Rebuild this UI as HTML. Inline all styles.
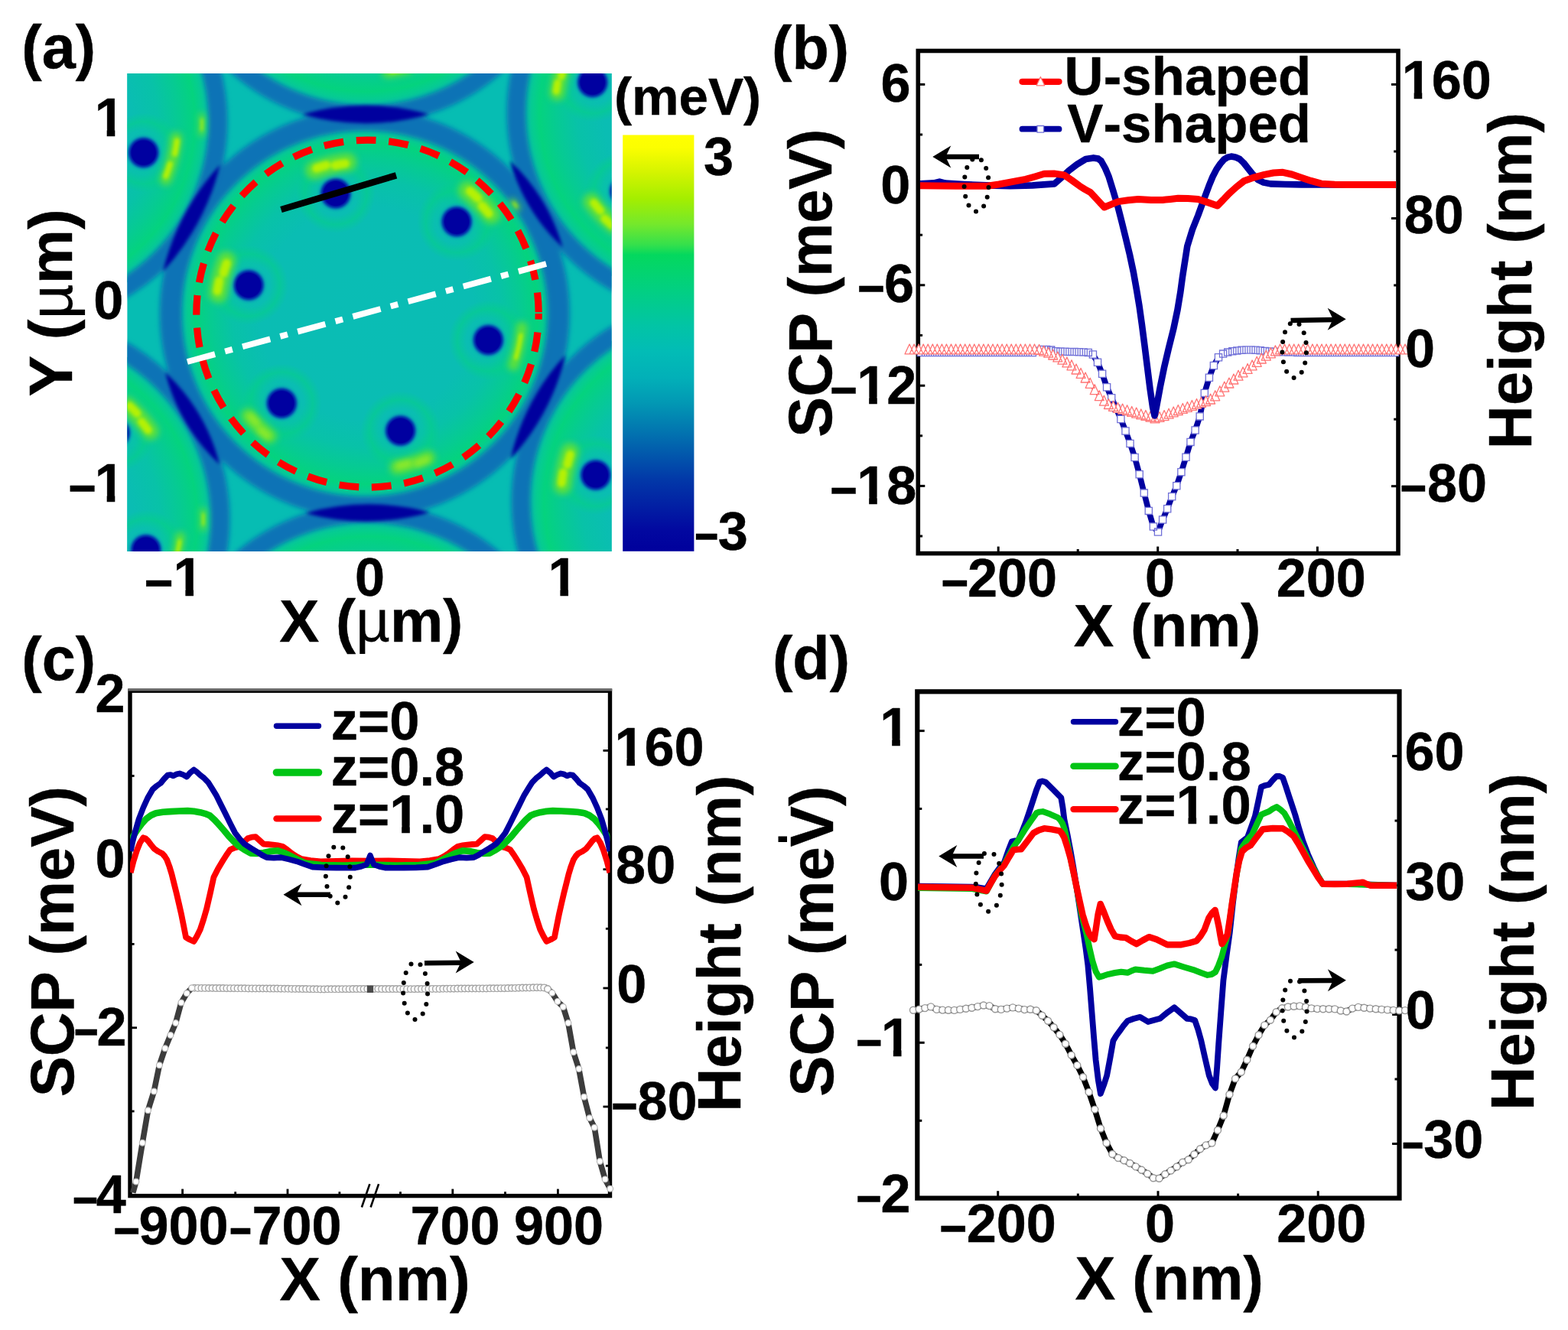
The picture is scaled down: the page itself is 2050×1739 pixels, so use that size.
<!DOCTYPE html>
<html lang="en"><head><meta charset="utf-8"><title>SCP and height profiles</title>
<style>
html,body{margin:0;padding:0;background:#fff;}
body{width:2050px;height:1739px;overflow:hidden;}
svg{display:block;}
svg text{font-family:"Liberation Sans", Arial, Helvetica, sans-serif;font-weight:bold;fill:#000;stroke:#000;stroke-width:0.45px;stroke-linejoin:round;}
</style></head><body>
<svg width="2050" height="1739" viewBox="0 0 2050 1739">
<defs>
<clipPath id="hclip"><rect x="166.4" y="96.0" width="633.2" height="625.1"/></clipPath>
<radialGradient id="disk" cx="0.5" cy="0.5" r="0.5">
<stop offset="0" stop-color="#0abdb5"/>
<stop offset="0.56" stop-color="#0abdb3"/>
<stop offset="0.70" stop-color="#08c2a8"/>
<stop offset="0.81" stop-color="#06cb92"/>
<stop offset="0.895" stop-color="#04d37e"/>
<stop offset="0.95" stop-color="#06c99a"/>
<stop offset="1" stop-color="#08b6b0"/>
</radialGradient>
<radialGradient id="halo" cx="0.5" cy="0.5" r="0.5">
<stop offset="0" stop-color="#04d47c" stop-opacity="0"/>
<stop offset="0.55" stop-color="#04d47c" stop-opacity="0"/>
<stop offset="0.78" stop-color="#04d47c" stop-opacity="0.45"/>
<stop offset="1" stop-color="#04d47c" stop-opacity="0"/>
</radialGradient>
<radialGradient id="dot" cx="0.5" cy="0.5" r="0.5">
<stop offset="0" stop-color="#0000a0"/>
<stop offset="0.60" stop-color="#0000a0"/>
<stop offset="0.72" stop-color="#0340b0" stop-opacity="0.95"/>
<stop offset="0.86" stop-color="#08a0b8" stop-opacity="0.55"/>
<stop offset="1" stop-color="#08bcb4" stop-opacity="0"/>
</radialGradient>
<radialGradient id="blob" cx="0.5" cy="0.5" r="0.5">
<stop offset="0" stop-color="#c4f400"/>
<stop offset="0.45" stop-color="#a8ee10" stop-opacity="0.95"/>
<stop offset="0.78" stop-color="#50e040" stop-opacity="0.6"/>
<stop offset="1" stop-color="#04d67a" stop-opacity="0"/>
</radialGradient>
<filter id="b2" x="-20%" y="-20%" width="140%" height="140%"><feGaussianBlur stdDeviation="2"/></filter>
<filter id="b3" x="-20%" y="-20%" width="140%" height="140%"><feGaussianBlur stdDeviation="3"/></filter>
<filter id="b4" x="-20%" y="-20%" width="140%" height="140%"><feGaussianBlur stdDeviation="4"/></filter>
<linearGradient id="cbar" x1="0" y1="0" x2="0" y2="1">
<stop offset="0" stop-color="#ffff00"/>
<stop offset="0.03" stop-color="#fcfe00"/>
<stop offset="0.09" stop-color="#d4f400"/>
<stop offset="0.153" stop-color="#a4ee00"/>
<stop offset="0.215" stop-color="#74e82c"/>
<stop offset="0.264" stop-color="#34e04c"/>
<stop offset="0.288" stop-color="#04d85e"/>
<stop offset="0.368" stop-color="#02d080"/>
<stop offset="0.46" stop-color="#02c4a6"/>
<stop offset="0.52" stop-color="#02bcb6"/>
<stop offset="0.583" stop-color="#02b0b8"/>
<stop offset="0.644" stop-color="#0298b4"/>
<stop offset="0.706" stop-color="#0278b0"/>
<stop offset="0.767" stop-color="#0258ac"/>
<stop offset="0.828" stop-color="#0238a8"/>
<stop offset="0.89" stop-color="#0220a4"/>
<stop offset="0.95" stop-color="#0208a0"/>
<stop offset="1" stop-color="#00009c"/>
</linearGradient>
<clipPath id="bclip"><rect x="1200.3" y="66.5" width="627.7" height="657.1"/></clipPath>
<clipPath id="cclip"><rect x="170.0" y="903.2" width="627.5" height="660.4"/></clipPath>
<clipPath id="dclip"><rect x="1199.3" y="904.3" width="630.2" height="662.3"/></clipPath>
</defs>
<rect width="2050" height="1739" fill="#fff"/>
<g clip-path="url(#hclip)">
<rect x="164.4" y="94.0" width="637.2" height="629.1" fill="#06bdb3"/>
<circle cx="479.0" cy="409.5" r="250.0" fill="url(#disk)"/>
<circle cx="479.0" cy="-104.0" r="250.0" fill="url(#disk)"/>
<circle cx="481.0" cy="925.0" r="250.0" fill="url(#disk)"/>
<circle cx="31.0" cy="159.0" r="250.0" fill="url(#disk)"/>
<circle cx="929.0" cy="147.0" r="250.0" fill="url(#disk)"/>
<circle cx="34.0" cy="679.0" r="250.0" fill="url(#disk)"/>
<circle cx="935.0" cy="656.0" r="250.0" fill="url(#disk)"/>
<g filter="url(#b3)" fill="none" stroke="#086cb6" stroke-opacity="0.92">
<circle cx="476.8" cy="410.0" r="253.5" stroke-width="29"/>
<circle cx="479.0" cy="-104.0" r="254.0" stroke-width="25"/>
<circle cx="481.0" cy="925.0" r="254.0" stroke-width="25"/>
<circle cx="31.0" cy="159.0" r="254.0" stroke-width="25"/>
<circle cx="929.0" cy="147.0" r="254.0" stroke-width="25"/>
<circle cx="34.0" cy="679.0" r="254.0" stroke-width="25"/>
<circle cx="935.0" cy="656.0" r="254.0" stroke-width="25"/>
</g>
<g filter="url(#b2)" fill="#00009e">
<path d="M395.0,149.5 A305.3,305.3 0 0 1 561.0,149.5 A305.3,305.3 0 0 1 395.0,149.5 Z"/>
<path d="M399.0,671.0 A307.4,307.4 0 0 1 562.0,670.0 A307.4,307.4 0 0 1 399.0,671.0 Z"/>
<path d="M213.0,355.0 A318.2,318.2 0 0 1 287.6,215.4 A318.2,318.2 0 0 1 213.0,355.0 Z"/>
<path d="M666.5,210.0 A249.9,249.9 0 0 1 735.7,323.5 A249.9,249.9 0 0 1 666.5,210.0 Z"/>
<path d="M216.0,486.8 A250.0,250.0 0 0 1 287.1,607.4 A250.0,250.0 0 0 1 216.0,486.8 Z"/>
<path d="M667.4,600.0 A301.7,301.7 0 0 1 739.4,463.8 A301.7,301.7 0 0 1 667.4,600.0 Z"/>
</g>
<circle cx="438.9" cy="253.0" r="52" fill="url(#halo)"/>
<circle cx="597.1" cy="289.8" r="52" fill="url(#halo)"/>
<circle cx="325.1" cy="372.8" r="52" fill="url(#halo)"/>
<circle cx="638.4" cy="444.6" r="52" fill="url(#halo)"/>
<circle cx="368.3" cy="527.2" r="52" fill="url(#halo)"/>
<circle cx="523.6" cy="563.2" r="52" fill="url(#halo)"/>
<circle cx="187.7" cy="199.6" r="52" fill="url(#halo)"/>
<circle cx="774.7" cy="107.6" r="52" fill="url(#halo)"/>
<circle cx="190.8" cy="718.8" r="52" fill="url(#halo)"/>
<circle cx="778.8" cy="621.1" r="52" fill="url(#halo)"/>
<circle cx="817.0" cy="250.0" r="52" fill="url(#halo)"/>
<circle cx="150.0" cy="566.0" r="52" fill="url(#halo)"/>
<circle cx="438.9" cy="253.0" r="26" fill="url(#dot)"/>
<circle cx="597.1" cy="289.8" r="26" fill="url(#dot)"/>
<circle cx="325.1" cy="372.8" r="26" fill="url(#dot)"/>
<circle cx="638.4" cy="444.6" r="26" fill="url(#dot)"/>
<circle cx="368.3" cy="527.2" r="26" fill="url(#dot)"/>
<circle cx="523.6" cy="563.2" r="26" fill="url(#dot)"/>
<circle cx="187.7" cy="199.6" r="26" fill="url(#dot)"/>
<circle cx="774.7" cy="107.6" r="26" fill="url(#dot)"/>
<circle cx="190.8" cy="718.8" r="26" fill="url(#dot)"/>
<circle cx="778.8" cy="621.1" r="26" fill="url(#dot)"/>
<circle cx="817.0" cy="250.0" r="26" fill="url(#dot)"/>
<circle cx="150.0" cy="566.0" r="26" fill="url(#dot)"/>
<g filter="url(#b4)" fill="none" stroke="#64e234" stroke-linecap="round" stroke-opacity="0.92"><path d="M411.4,222.3 A199.0,199.0 0 0 1 454.1,212.1" stroke-width="24.2"/><path d="M611.3,249.1 A207.9,207.9 0 0 1 642.0,280.5" stroke-width="24.2"/><path d="M285.3,383.6 A195.5,195.5 0 0 1 295.9,341.0" stroke-width="24.2"/><path d="M682.2,427.9 A204.0,204.0 0 0 1 671.3,477.6" stroke-width="14.3"/><path d="M352.6,570.3 A204.5,204.5 0 0 1 324.4,543.4" stroke-width="18.7"/><path d="M559.9,598.5 A205.6,205.6 0 0 1 518.9,611.2" stroke-width="18.7"/><path d="M230.4,180.4 A200.6,200.6 0 0 1 216.8,234.5" stroke-width="15.4"/><path d="M728.4,121.7 A202.2,202.2 0 0 1 736.0,86.6" stroke-width="19.8"/><path d="M803.6,295.7 A194.5,194.5 0 0 1 773.4,263.8" stroke-width="22.0"/><path d="M166.0,529.8 A199.2,199.2 0 0 1 196.6,564.0" stroke-width="22.0"/><path d="M235.6,701.7 A202.9,202.9 0 0 1 230.3,730.2" stroke-width="12.1"/><path d="M735.4,634.8 A200.7,200.7 0 0 1 745.1,591.0" stroke-width="23.1"/><path d="M532.6,88.9 A200.2,200.2 0 0 1 507.2,94.2" stroke-width="15.4"/><path d="M263.9,151.5 A233.0,233.0 0 0 1 263.5,174.5" stroke-width="7.7"/><path d="M265.5,667.5 A231.8,231.8 0 0 1 265.5,690.5" stroke-width="7.7"/><path d="M670.2,263.3 A240.7,240.7 0 0 1 676.7,272.2" stroke-width="7.7"/></g>
<g filter="url(#b2)" fill="none" stroke="#bcf200" stroke-linecap="round" stroke-opacity="0.92"><path d="M413.9,219.9 A200.5,200.5 0 0 1 426.6,216.0" stroke-width="11.4"/><path d="M438.4,216.2 A197.5,197.5 0 0 1 451.3,213.9" stroke-width="11.4"/><path d="M614.6,250.0 A209.4,209.4 0 0 1 624.5,258.9" stroke-width="11.4"/><path d="M630.3,269.2 A206.4,206.4 0 0 1 638.9,279.0" stroke-width="11.4"/><path d="M284.2,380.3 A197.0,197.0 0 0 1 286.6,367.2" stroke-width="11.4"/><path d="M292.3,356.9 A194.0,194.0 0 0 1 296.3,344.4" stroke-width="11.4"/><path d="M681.0,438.0 A204.0,204.0 0 0 1 674.5,467.9" stroke-width="5.2"/><path d="M231.4,184.4 A202.1,202.1 0 0 1 228.6,201.1" stroke-width="7.3"/><path d="M222.2,214.5 A199.1,199.1 0 0 1 216.8,230.3" stroke-width="7.3"/><path d="M727.2,119.0 A203.7,203.7 0 0 1 729.0,108.3" stroke-width="9.4"/><path d="M733.9,99.8 A200.7,200.7 0 0 1 736.7,89.4" stroke-width="9.4"/><path d="M800.3,294.8 A196.0,196.0 0 0 1 790.5,285.8" stroke-width="10.4"/><path d="M784.9,275.4 A193.0,193.0 0 0 1 776.5,265.3" stroke-width="10.4"/><path d="M169.4,530.8 A200.7,200.7 0 0 1 179.3,540.6" stroke-width="10.4"/><path d="M185.1,551.5 A197.7,197.7 0 0 1 193.5,562.2" stroke-width="10.4"/><path d="M234.9,707.4 A202.9,202.9 0 0 1 231.7,724.5" stroke-width="4.4"/><path d="M734.2,631.5 A202.2,202.2 0 0 1 736.3,618.0" stroke-width="10.9"/><path d="M741.8,607.3 A199.2,199.2 0 0 1 745.5,594.4" stroke-width="10.9"/><path d="M527.6,90.3 A200.2,200.2 0 0 1 512.3,93.4" stroke-width="5.6"/><path d="M264.0,156.1 A233.0,233.0 0 0 1 263.8,169.9" stroke-width="2.8"/><path d="M265.7,672.1 A231.8,231.8 0 0 1 265.7,685.9" stroke-width="2.8"/><path d="M671.5,265.0 A240.7,240.7 0 0 1 675.4,270.4" stroke-width="2.8"/></g>
<g filter="url(#b3)" fill="none" stroke="#90ea28" stroke-linecap="round" stroke-opacity="0.9"><path d="M349.6,569.7 A206.0,206.0 0 0 1 340.6,562.1" stroke-width="8.8"/><path d="M335.3,552.9 A203.0,203.0 0 0 1 327.4,544.4" stroke-width="8.8"/><path d="M557.7,601.0 A207.1,207.1 0 0 1 545.5,605.6" stroke-width="8.8"/><path d="M533.9,606.0 A204.1,204.1 0 0 1 521.5,609.1" stroke-width="8.8"/></g>
</g>
<g clip-path="url(#hclip)">
<ellipse cx="480.5" cy="410.1" rx="223.7" ry="227" fill="none" stroke="#ff0000" stroke-width="9.2" stroke-dasharray="25.8 16.8" stroke-dashoffset="18.2"/>
</g>
<line x1="367.5" y1="274" x2="518" y2="229.3" stroke="#000" stroke-width="8.6"/>
<line x1="244.9" y1="473.0" x2="714.3" y2="344.9" stroke="#fff" stroke-width="7.9" stroke-dasharray="37.5 13.6 10 13.7"/>
<rect x="814.2" y="176.5" width="93.2" height="544.3" fill="url(#cbar)"/>
<line x1="1336.5" y1="106.8" x2="1384.5" y2="106.8" stroke="#ff0000" stroke-width="8.2" stroke-linecap="round"/>
<path d="M1355.2,111.8 L1365.7,111.8 L1360.4,100.4 Z " fill="#fff" stroke="#ff7474" stroke-width="1.3" stroke-linejoin="round"/>
<line x1="1336.5" y1="168.7" x2="1384.5" y2="168.7" stroke="#00009f" stroke-width="7.8" stroke-linecap="round"/>
<path d="M1356.0,164.5 h8.6 v8.6 h-8.6 Z " fill="#fff" stroke="#7070d8" stroke-width="1.3"/>
<rect x="1200.3" y="66.5" width="627.7" height="657.1" fill="none" stroke="#000" stroke-width="5.6"/>
<line x1="1200.3" y1="110.4" x2="1209.3" y2="110.4" stroke="#000" stroke-width="3.0"/>
<line x1="1200.3" y1="241.6" x2="1209.3" y2="241.6" stroke="#000" stroke-width="3.0"/>
<line x1="1200.3" y1="372.8" x2="1209.3" y2="372.8" stroke="#000" stroke-width="3.0"/>
<line x1="1200.3" y1="504.2" x2="1209.3" y2="504.2" stroke="#000" stroke-width="3.0"/>
<line x1="1200.3" y1="635.4" x2="1209.3" y2="635.4" stroke="#000" stroke-width="3.0"/>
<line x1="1200.3" y1="176.0" x2="1206.1" y2="176.0" stroke="#000" stroke-width="3.0"/>
<line x1="1200.3" y1="307.2" x2="1206.1" y2="307.2" stroke="#000" stroke-width="3.0"/>
<line x1="1200.3" y1="438.4" x2="1206.1" y2="438.4" stroke="#000" stroke-width="3.0"/>
<line x1="1200.3" y1="569.8" x2="1206.1" y2="569.8" stroke="#000" stroke-width="3.0"/>
<line x1="1200.3" y1="701.0" x2="1206.1" y2="701.0" stroke="#000" stroke-width="3.0"/>
<line x1="1828.0" y1="110.4" x2="1819.0" y2="110.4" stroke="#000" stroke-width="3.0"/>
<line x1="1828.0" y1="285.5" x2="1819.0" y2="285.5" stroke="#000" stroke-width="3.0"/>
<line x1="1828.0" y1="460.6" x2="1819.0" y2="460.6" stroke="#000" stroke-width="3.0"/>
<line x1="1828.0" y1="635.7" x2="1819.0" y2="635.7" stroke="#000" stroke-width="3.0"/>
<line x1="1828.0" y1="198.0" x2="1822.2" y2="198.0" stroke="#000" stroke-width="3.0"/>
<line x1="1828.0" y1="373.0" x2="1822.2" y2="373.0" stroke="#000" stroke-width="3.0"/>
<line x1="1828.0" y1="548.2" x2="1822.2" y2="548.2" stroke="#000" stroke-width="3.0"/>
<line x1="1305.2" y1="723.6" x2="1305.2" y2="714.6" stroke="#000" stroke-width="3.0"/>
<line x1="1513.7" y1="723.6" x2="1513.7" y2="714.6" stroke="#000" stroke-width="3.0"/>
<line x1="1722.4" y1="723.6" x2="1722.4" y2="714.6" stroke="#000" stroke-width="3.0"/>
<line x1="1409.2" y1="723.6" x2="1409.2" y2="718.0" stroke="#000" stroke-width="3.0"/>
<line x1="1618.0" y1="723.6" x2="1618.0" y2="718.0" stroke="#000" stroke-width="3.0"/>
<path d="M1204.0,461.0 L1210.1,461.0 L1216.2,461.0 L1222.2,461.0 L1228.3,461.0 L1234.4,461.0 L1240.5,461.0 L1246.5,461.0 L1252.6,461.0 L1258.7,461.0 L1264.8,461.0 L1270.9,461.0 L1276.9,461.0 L1283.0,461.0 L1289.1,461.0 L1295.2,461.0 L1301.3,461.0 L1307.3,461.0 L1313.4,461.0 L1319.5,461.0 L1325.6,461.0 L1331.6,461.0 L1337.7,461.0 L1343.8,461.0 L1349.9,461.0 L1356.0,458.8 L1362.0,457.0 L1368.1,457.0 L1374.2,457.6 L1380.3,459.3 L1386.4,459.6 L1392.4,459.8 L1398.5,459.9 L1404.6,460.1 L1410.7,460.3 L1416.7,460.4 L1422.8,460.9 L1428.9,463.5 L1435.0,473.8 L1441.1,488.8 L1447.1,506.2 L1453.2,520.3 L1459.3,533.9 L1465.4,548.0 L1471.5,563.5 L1477.5,579.9 L1483.6,598.0 L1489.7,620.3 L1495.8,644.6 L1501.8,667.9 L1507.9,688.5 L1514.0,695.6 L1520.1,679.5 L1526.2,665.2 L1532.2,649.3 L1538.3,635.3 L1544.4,617.2 L1550.5,597.8 L1556.5,577.9 L1562.6,562.5 L1568.7,544.4 L1574.8,513.9 L1580.9,493.7 L1586.9,478.0 L1593.0,467.3 L1599.1,462.6 L1605.2,460.6 L1611.3,459.3 L1617.3,458.4 L1623.4,457.7 L1629.5,457.5 L1635.6,457.5 L1641.6,457.7 L1647.7,458.3 L1653.8,458.9 L1659.9,459.5 L1666.0,459.7 L1672.0,460.0 L1678.1,460.2 L1684.2,460.4 L1690.3,460.6 L1696.4,460.9 L1702.4,461.0 L1708.5,461.0 L1714.6,461.0 L1720.7,461.0 L1726.7,461.0 L1732.8,461.0 L1738.9,461.0 L1745.0,461.0 L1751.1,461.0 L1757.1,461.0 L1763.2,461.0 L1769.3,461.0 L1775.4,461.0 L1781.5,461.0 L1787.5,461.0 L1793.6,461.0 L1799.7,461.0 L1805.8,461.0 L1811.8,461.0 L1817.9,461.0 L1824.0,461.0" fill="none" stroke="#00009f" stroke-width="7.6" stroke-linejoin="round" stroke-linecap="butt"/>
<path d="M1199.4,456.4 h9.2 v9.2 h-9.2 Z M1205.5,456.4 h9.2 v9.2 h-9.2 Z M1211.6,456.4 h9.2 v9.2 h-9.2 Z M1217.6,456.4 h9.2 v9.2 h-9.2 Z M1223.7,456.4 h9.2 v9.2 h-9.2 Z M1229.8,456.4 h9.2 v9.2 h-9.2 Z M1235.9,456.4 h9.2 v9.2 h-9.2 Z M1241.9,456.4 h9.2 v9.2 h-9.2 Z M1248.0,456.4 h9.2 v9.2 h-9.2 Z M1254.1,456.4 h9.2 v9.2 h-9.2 Z M1260.2,456.4 h9.2 v9.2 h-9.2 Z M1266.3,456.4 h9.2 v9.2 h-9.2 Z M1272.3,456.4 h9.2 v9.2 h-9.2 Z M1278.4,456.4 h9.2 v9.2 h-9.2 Z M1284.5,456.4 h9.2 v9.2 h-9.2 Z M1290.6,456.4 h9.2 v9.2 h-9.2 Z M1296.7,456.4 h9.2 v9.2 h-9.2 Z M1302.7,456.4 h9.2 v9.2 h-9.2 Z M1308.8,456.4 h9.2 v9.2 h-9.2 Z M1314.9,456.4 h9.2 v9.2 h-9.2 Z M1321.0,456.4 h9.2 v9.2 h-9.2 Z M1327.0,456.4 h9.2 v9.2 h-9.2 Z M1333.1,456.4 h9.2 v9.2 h-9.2 Z M1339.2,456.4 h9.2 v9.2 h-9.2 Z M1345.3,456.4 h9.2 v9.2 h-9.2 Z M1351.4,454.2 h9.2 v9.2 h-9.2 Z M1357.4,452.4 h9.2 v9.2 h-9.2 Z M1363.5,452.4 h9.2 v9.2 h-9.2 Z M1369.6,453.0 h9.2 v9.2 h-9.2 Z M1375.7,454.7 h9.2 v9.2 h-9.2 Z M1381.8,455.0 h9.2 v9.2 h-9.2 Z M1387.8,455.2 h9.2 v9.2 h-9.2 Z M1393.9,455.3 h9.2 v9.2 h-9.2 Z M1400.0,455.5 h9.2 v9.2 h-9.2 Z M1406.1,455.7 h9.2 v9.2 h-9.2 Z M1412.1,455.8 h9.2 v9.2 h-9.2 Z M1418.2,456.3 h9.2 v9.2 h-9.2 Z M1424.3,458.9 h9.2 v9.2 h-9.2 Z M1430.4,469.2 h9.2 v9.2 h-9.2 Z M1436.5,484.2 h9.2 v9.2 h-9.2 Z M1442.5,501.6 h9.2 v9.2 h-9.2 Z M1448.6,515.7 h9.2 v9.2 h-9.2 Z M1454.7,529.3 h9.2 v9.2 h-9.2 Z M1460.8,543.4 h9.2 v9.2 h-9.2 Z M1466.9,558.9 h9.2 v9.2 h-9.2 Z M1472.9,575.3 h9.2 v9.2 h-9.2 Z M1479.0,593.4 h9.2 v9.2 h-9.2 Z M1485.1,615.7 h9.2 v9.2 h-9.2 Z M1491.2,640.0 h9.2 v9.2 h-9.2 Z M1497.2,663.3 h9.2 v9.2 h-9.2 Z M1503.3,683.9 h9.2 v9.2 h-9.2 Z M1509.4,691.0 h9.2 v9.2 h-9.2 Z M1515.5,674.9 h9.2 v9.2 h-9.2 Z M1521.6,660.6 h9.2 v9.2 h-9.2 Z M1527.6,644.7 h9.2 v9.2 h-9.2 Z M1533.7,630.7 h9.2 v9.2 h-9.2 Z M1539.8,612.6 h9.2 v9.2 h-9.2 Z M1545.9,593.2 h9.2 v9.2 h-9.2 Z M1551.9,573.3 h9.2 v9.2 h-9.2 Z M1558.0,557.9 h9.2 v9.2 h-9.2 Z M1564.1,539.8 h9.2 v9.2 h-9.2 Z M1570.2,509.3 h9.2 v9.2 h-9.2 Z M1576.3,489.1 h9.2 v9.2 h-9.2 Z M1582.3,473.4 h9.2 v9.2 h-9.2 Z M1588.4,462.7 h9.2 v9.2 h-9.2 Z M1594.5,458.0 h9.2 v9.2 h-9.2 Z M1600.6,456.0 h9.2 v9.2 h-9.2 Z M1606.7,454.7 h9.2 v9.2 h-9.2 Z M1612.7,453.8 h9.2 v9.2 h-9.2 Z M1618.8,453.1 h9.2 v9.2 h-9.2 Z M1624.9,452.9 h9.2 v9.2 h-9.2 Z M1631.0,452.9 h9.2 v9.2 h-9.2 Z M1637.0,453.1 h9.2 v9.2 h-9.2 Z M1643.1,453.7 h9.2 v9.2 h-9.2 Z M1649.2,454.3 h9.2 v9.2 h-9.2 Z M1655.3,454.9 h9.2 v9.2 h-9.2 Z M1661.4,455.1 h9.2 v9.2 h-9.2 Z M1667.4,455.4 h9.2 v9.2 h-9.2 Z M1673.5,455.6 h9.2 v9.2 h-9.2 Z M1679.6,455.8 h9.2 v9.2 h-9.2 Z M1685.7,456.0 h9.2 v9.2 h-9.2 Z M1691.8,456.3 h9.2 v9.2 h-9.2 Z M1697.8,456.4 h9.2 v9.2 h-9.2 Z M1703.9,456.4 h9.2 v9.2 h-9.2 Z M1710.0,456.4 h9.2 v9.2 h-9.2 Z M1716.1,456.4 h9.2 v9.2 h-9.2 Z M1722.1,456.4 h9.2 v9.2 h-9.2 Z M1728.2,456.4 h9.2 v9.2 h-9.2 Z M1734.3,456.4 h9.2 v9.2 h-9.2 Z M1740.4,456.4 h9.2 v9.2 h-9.2 Z M1746.5,456.4 h9.2 v9.2 h-9.2 Z M1752.5,456.4 h9.2 v9.2 h-9.2 Z M1758.6,456.4 h9.2 v9.2 h-9.2 Z M1764.7,456.4 h9.2 v9.2 h-9.2 Z M1770.8,456.4 h9.2 v9.2 h-9.2 Z M1776.9,456.4 h9.2 v9.2 h-9.2 Z M1782.9,456.4 h9.2 v9.2 h-9.2 Z M1789.0,456.4 h9.2 v9.2 h-9.2 Z M1795.1,456.4 h9.2 v9.2 h-9.2 Z M1801.2,456.4 h9.2 v9.2 h-9.2 Z M1807.2,456.4 h9.2 v9.2 h-9.2 Z M1813.3,456.4 h9.2 v9.2 h-9.2 Z M1819.4,456.4 h9.2 v9.2 h-9.2 Z " fill="#fff" stroke="#7070d8" stroke-width="1.3"/>
<path d="M1189.0,457.5 L1195.1,457.5 L1201.1,457.5 L1207.2,457.5 L1213.2,457.5 L1219.3,457.5 L1225.3,457.5 L1231.4,457.5 L1237.4,457.5 L1243.5,457.5 L1249.6,457.5 L1255.6,457.5 L1261.7,457.5 L1267.7,457.5 L1273.8,457.5 L1279.8,457.5 L1285.9,457.5 L1292.0,457.5 L1298.0,457.5 L1304.1,457.5 L1310.1,457.5 L1316.2,457.5 L1322.2,457.5 L1328.3,457.5 L1334.3,457.5 L1340.4,457.5 L1346.5,457.5 L1352.5,457.5 L1358.6,458.0 L1364.6,459.7 L1370.7,461.8 L1376.7,464.5 L1382.8,467.4 L1388.9,470.8 L1394.9,474.5 L1401.0,478.3 L1407.0,483.5 L1413.1,488.9 L1419.1,494.5 L1425.2,501.8 L1431.2,510.3 L1437.3,518.3 L1443.4,524.7 L1449.4,529.0 L1455.5,531.8 L1461.5,533.9 L1467.6,535.6 L1473.6,537.3 L1479.7,538.9 L1485.7,540.6 L1491.8,542.4 L1497.9,544.0 L1503.9,545.6 L1510.0,547.5 L1516.0,546.0 L1522.1,544.2 L1528.1,541.7 L1534.2,539.4 L1540.3,537.0 L1546.3,535.0 L1552.4,532.9 L1558.4,530.9 L1564.5,528.9 L1570.5,527.0 L1576.6,525.1 L1582.6,522.6 L1588.7,518.4 L1594.8,512.3 L1600.8,506.6 L1606.9,501.6 L1612.9,496.5 L1619.0,491.8 L1625.0,487.4 L1631.1,483.0 L1637.1,478.4 L1643.2,473.9 L1649.3,469.6 L1655.3,465.7 L1661.4,462.3 L1667.4,459.4 L1673.5,457.5 L1679.5,457.5 L1685.6,457.5 L1691.7,457.5 L1697.7,457.5 L1703.8,457.5 L1709.8,457.5 L1715.9,457.5 L1721.9,457.5 L1728.0,457.5 L1734.0,457.5 L1740.1,457.5 L1746.2,457.5 L1752.2,457.5 L1758.3,457.5 L1764.3,457.5 L1770.4,457.5 L1776.4,457.5 L1782.5,457.5 L1788.6,457.5 L1794.6,457.5 L1800.7,457.5 L1806.7,457.5 L1812.8,457.5 L1818.8,457.5 L1824.9,457.5 L1830.9,457.5 L1837.0,457.5" fill="none" stroke="#ff0000" stroke-width="4.2" stroke-linejoin="round" stroke-linecap="butt"/>
<path d="M1183.0,462.9 L1195.0,462.9 L1189.0,450.0 Z M1189.1,462.9 L1201.1,462.9 L1195.1,450.0 Z M1195.1,462.9 L1207.1,462.9 L1201.1,450.0 Z M1201.2,462.9 L1213.2,462.9 L1207.2,450.0 Z M1207.2,462.9 L1219.2,462.9 L1213.2,450.0 Z M1213.3,462.9 L1225.3,462.9 L1219.3,450.0 Z M1219.3,462.9 L1231.3,462.9 L1225.3,450.0 Z M1225.4,462.9 L1237.4,462.9 L1231.4,450.0 Z M1231.4,462.9 L1243.4,462.9 L1237.4,450.0 Z M1237.5,462.9 L1249.5,462.9 L1243.5,450.0 Z M1243.6,462.9 L1255.6,462.9 L1249.6,450.0 Z M1249.6,462.9 L1261.6,462.9 L1255.6,450.0 Z M1255.7,462.9 L1267.7,462.9 L1261.7,450.0 Z M1261.7,462.9 L1273.7,462.9 L1267.7,450.0 Z M1267.8,462.9 L1279.8,462.9 L1273.8,450.0 Z M1273.8,462.9 L1285.8,462.9 L1279.8,450.0 Z M1279.9,462.9 L1291.9,462.9 L1285.9,450.0 Z M1286.0,462.9 L1298.0,462.9 L1292.0,450.0 Z M1292.0,462.9 L1304.0,462.9 L1298.0,450.0 Z M1298.1,462.9 L1310.1,462.9 L1304.1,450.0 Z M1304.1,462.9 L1316.1,462.9 L1310.1,450.0 Z M1310.2,462.9 L1322.2,462.9 L1316.2,450.0 Z M1316.2,462.9 L1328.2,462.9 L1322.2,450.0 Z M1322.3,462.9 L1334.3,462.9 L1328.3,450.0 Z M1328.3,462.9 L1340.3,462.9 L1334.3,450.0 Z M1334.4,462.9 L1346.4,462.9 L1340.4,450.0 Z M1340.5,462.9 L1352.5,462.9 L1346.5,450.0 Z M1346.5,462.9 L1358.5,462.9 L1352.5,450.0 Z M1352.6,463.4 L1364.6,463.4 L1358.6,450.4 Z M1358.6,465.2 L1370.6,465.2 L1364.6,452.2 Z M1364.7,467.2 L1376.7,467.2 L1370.7,454.2 Z M1370.7,470.0 L1382.7,470.0 L1376.7,457.0 Z M1376.8,472.9 L1388.8,472.9 L1382.8,459.9 Z M1382.9,476.2 L1394.9,476.2 L1388.9,463.3 Z M1388.9,479.9 L1400.9,479.9 L1394.9,467.0 Z M1395.0,483.8 L1407.0,483.8 L1401.0,470.8 Z M1401.0,489.0 L1413.0,489.0 L1407.0,476.0 Z M1407.1,494.4 L1419.1,494.4 L1413.1,481.4 Z M1413.1,500.0 L1425.1,500.0 L1419.1,487.0 Z M1419.2,507.3 L1431.2,507.3 L1425.2,494.3 Z M1425.2,515.7 L1437.2,515.7 L1431.2,502.8 Z M1431.3,523.7 L1443.3,523.7 L1437.3,510.8 Z M1437.4,530.2 L1449.4,530.2 L1443.4,517.2 Z M1443.4,534.5 L1455.4,534.5 L1449.4,521.5 Z M1449.5,537.3 L1461.5,537.3 L1455.5,524.3 Z M1455.5,539.3 L1467.5,539.3 L1461.5,526.4 Z M1461.6,541.1 L1473.6,541.1 L1467.6,528.1 Z M1467.6,542.7 L1479.6,542.7 L1473.6,529.8 Z M1473.7,544.4 L1485.7,544.4 L1479.7,531.4 Z M1479.7,546.1 L1491.7,546.1 L1485.7,533.1 Z M1485.8,547.9 L1497.8,547.9 L1491.8,534.9 Z M1491.9,549.4 L1503.9,549.4 L1497.9,536.4 Z M1497.9,551.0 L1509.9,551.0 L1503.9,538.1 Z M1504.0,552.9 L1516.0,552.9 L1510.0,540.0 Z M1510.0,551.4 L1522.0,551.4 L1516.0,538.5 Z M1516.1,549.6 L1528.1,549.6 L1522.1,536.6 Z M1522.1,547.2 L1534.1,547.2 L1528.1,534.2 Z M1528.2,544.8 L1540.2,544.8 L1534.2,531.9 Z M1534.3,542.5 L1546.3,542.5 L1540.3,529.5 Z M1540.3,540.4 L1552.3,540.4 L1546.3,527.4 Z M1546.4,538.3 L1558.4,538.3 L1552.4,525.4 Z M1552.4,536.3 L1564.4,536.3 L1558.4,523.4 Z M1558.5,534.4 L1570.5,534.4 L1564.5,521.4 Z M1564.5,532.4 L1576.5,532.4 L1570.5,519.5 Z M1570.6,530.5 L1582.6,530.5 L1576.6,517.6 Z M1576.6,528.0 L1588.6,528.0 L1582.6,515.1 Z M1582.7,523.8 L1594.7,523.8 L1588.7,510.8 Z M1588.8,517.8 L1600.8,517.8 L1594.8,504.8 Z M1594.8,512.1 L1606.8,512.1 L1600.8,499.1 Z M1600.9,507.0 L1612.9,507.0 L1606.9,494.1 Z M1606.9,502.0 L1618.9,502.0 L1612.9,489.0 Z M1613.0,497.2 L1625.0,497.2 L1619.0,484.3 Z M1619.0,492.8 L1631.0,492.8 L1625.0,479.9 Z M1625.1,488.4 L1637.1,488.4 L1631.1,475.4 Z M1631.1,483.8 L1643.1,483.8 L1637.1,470.9 Z M1637.2,479.3 L1649.2,479.3 L1643.2,466.3 Z M1643.3,475.0 L1655.3,475.0 L1649.3,462.1 Z M1649.3,471.1 L1661.3,471.1 L1655.3,458.2 Z M1655.4,467.8 L1667.4,467.8 L1661.4,454.8 Z M1661.4,464.8 L1673.4,464.8 L1667.4,451.8 Z M1667.5,462.9 L1679.5,462.9 L1673.5,450.0 Z M1673.5,462.9 L1685.5,462.9 L1679.5,450.0 Z M1679.6,462.9 L1691.6,462.9 L1685.6,450.0 Z M1685.7,462.9 L1697.7,462.9 L1691.7,450.0 Z M1691.7,462.9 L1703.7,462.9 L1697.7,450.0 Z M1697.8,462.9 L1709.8,462.9 L1703.8,450.0 Z M1703.8,462.9 L1715.8,462.9 L1709.8,450.0 Z M1709.9,462.9 L1721.9,462.9 L1715.9,450.0 Z M1715.9,462.9 L1727.9,462.9 L1721.9,450.0 Z M1722.0,462.9 L1734.0,462.9 L1728.0,450.0 Z M1728.0,462.9 L1740.0,462.9 L1734.0,450.0 Z M1734.1,462.9 L1746.1,462.9 L1740.1,450.0 Z M1740.2,462.9 L1752.2,462.9 L1746.2,450.0 Z M1746.2,462.9 L1758.2,462.9 L1752.2,450.0 Z M1752.3,462.9 L1764.3,462.9 L1758.3,450.0 Z M1758.3,462.9 L1770.3,462.9 L1764.3,450.0 Z M1764.4,462.9 L1776.4,462.9 L1770.4,450.0 Z M1770.4,462.9 L1782.4,462.9 L1776.4,450.0 Z M1776.5,462.9 L1788.5,462.9 L1782.5,450.0 Z M1782.6,462.9 L1794.6,462.9 L1788.6,450.0 Z M1788.6,462.9 L1800.6,462.9 L1794.6,450.0 Z M1794.7,462.9 L1806.7,462.9 L1800.7,450.0 Z M1800.7,462.9 L1812.7,462.9 L1806.7,450.0 Z M1806.8,462.9 L1818.8,462.9 L1812.8,450.0 Z M1812.8,462.9 L1824.8,462.9 L1818.8,450.0 Z M1818.9,462.9 L1830.9,462.9 L1824.9,450.0 Z M1824.9,462.9 L1836.9,462.9 L1830.9,450.0 Z M1831.0,462.9 L1843.0,462.9 L1837.0,450.0 Z " fill="#fff" stroke="#ff7474" stroke-width="1.3" stroke-linejoin="round"/>
<g clip-path="url(#bclip)">
<path d="M1203.0,240.4 L1221.0,239.4 L1228.3,237.6 L1236.0,239.6 L1260.0,241.0 L1290.0,242.4 L1320.9,243.2 L1350.0,242.4 L1378.3,240.4 L1388.0,232.0 L1397.4,223.1 L1408.0,215.0 L1419.5,208.0 L1429.6,206.4 L1436.0,207.6 L1439.7,210.5 L1445.0,220.0 L1449.7,231.2 L1455.5,250.0 L1461.8,271.4 L1466.8,291.0 L1471.9,311.7 L1477.0,333.0 L1481.9,356.0 L1486.0,379.0 L1489.5,400.0 L1493.0,425.0 L1496.5,452.0 L1500.0,480.0 L1503.5,508.0 L1507.0,532.0 L1509.5,543.5 L1512.0,532.0 L1517.0,505.0 L1522.0,480.6 L1528.0,455.0 L1534.2,430.3 L1539.5,405.0 L1543.3,382.0 L1546.0,362.0 L1552.3,321.7 L1559.0,300.0 L1566.4,281.5 L1573.5,262.0 L1580.5,243.2 L1585.5,231.0 L1590.6,221.1 L1595.5,214.0 L1600.6,208.2 L1605.0,205.6 L1609.7,204.6 L1615.0,205.4 L1620.8,208.0 L1626.0,213.0 L1630.8,219.1 L1637.5,227.5 L1644.9,235.2 L1652.0,238.6 L1661.0,240.4 L1680.0,241.0 L1701.3,241.4 L1760.0,241.4 L1825.0,241.4" fill="none" stroke="#00009f" stroke-width="8.6" stroke-linejoin="round" stroke-linecap="butt"/>
<path d="M1203.0,242.8 L1250.0,243.2 L1290.7,243.2 L1306.0,241.0 L1320.9,238.2 L1341.0,234.4 L1353.0,231.0 L1365.2,227.3 L1378.0,227.0 L1391.4,228.9 L1401.0,235.5 L1411.5,243.2 L1418.5,247.6 L1425.6,251.5 L1434.0,260.5 L1443.7,271.0 L1452.0,267.6 L1461.8,263.6 L1475.0,261.8 L1488.0,260.5 L1505.0,261.6 L1520.0,261.4 L1530.0,260.4 L1540.3,259.3 L1553.0,259.6 L1566.4,260.5 L1579.0,264.6 L1591.6,269.0 L1599.0,261.5 L1606.7,253.3 L1616.5,244.5 L1626.8,236.4 L1640.0,231.8 L1653.0,228.3 L1665.0,226.0 L1677.1,225.3 L1689.0,228.0 L1701.3,232.2 L1714.0,236.4 L1727.5,240.2 L1745.0,241.2 L1761.7,241.4 L1825.1,241.4" fill="none" stroke="#ff0000" stroke-width="9.0" stroke-linejoin="round" stroke-linecap="butt"/>
</g>
<g fill="#000"><circle cx="1292.5" cy="245.1" r="3.0"/><circle cx="1290.7" cy="257.8" r="3.0"/><circle cx="1286.1" cy="269.5" r="3.0"/><circle cx="1276.0" cy="276.4" r="3.0"/><circle cx="1266.5" cy="268.6" r="3.0"/><circle cx="1262.2" cy="256.7" r="3.0"/><circle cx="1260.6" cy="244.1" r="3.0"/><circle cx="1261.3" cy="231.5" r="3.0"/><circle cx="1264.3" cy="218.9" r="3.0"/><circle cx="1271.3" cy="208.4" r="3.0"/><circle cx="1282.9" cy="209.2" r="3.0"/><circle cx="1289.2" cy="219.9" r="3.0"/><circle cx="1292.1" cy="232.3" r="3.0"/></g>
<line x1="1280.0" y1="205.0" x2="1234.3" y2="205.0" stroke="#000" stroke-width="6.5"/>
<path d="M1219.3,205.0 L1243.3,190.5 L1236.3,205.0 L1243.3,219.5 Z" fill="#000"/>
<g fill="#000"><circle cx="1707.9" cy="461.3" r="3.0"/><circle cx="1706.2" cy="474.4" r="3.0"/><circle cx="1701.7" cy="486.7" r="3.0"/><circle cx="1691.6" cy="494.0" r="3.0"/><circle cx="1682.1" cy="485.7" r="3.0"/><circle cx="1677.9" cy="473.2" r="3.0"/><circle cx="1676.4" cy="460.4" r="3.0"/><circle cx="1677.1" cy="447.1" r="3.0"/><circle cx="1680.0" cy="434.3" r="3.0"/><circle cx="1686.8" cy="423.2" r="3.0"/><circle cx="1698.5" cy="424.0" r="3.0"/><circle cx="1704.7" cy="435.3" r="3.0"/><circle cx="1707.5" cy="448.1" r="3.0"/></g>
<line x1="1687.5" y1="419.0" x2="1744.7" y2="418.1" stroke="#000" stroke-width="6.5"/>
<path d="M1759.7,417.2 L1735.7,402.7 L1742.7,417.2 L1735.7,431.7 Z" fill="#000"/>
<line x1="361.5" y1="949.3" x2="416.5" y2="949.3" stroke="#00009f" stroke-width="7.4" stroke-linecap="round"/>
<line x1="361.5" y1="1010.0" x2="416.5" y2="1010.0" stroke="#00c414" stroke-width="9.6" stroke-linecap="round"/>
<line x1="361.5" y1="1070.4" x2="416.5" y2="1070.4" stroke="#ff0000" stroke-width="8.4" stroke-linecap="round"/>
<rect x="170.0" y="903.2" width="627.5" height="660.4" fill="none" stroke="#000" stroke-width="5.4"/>
<line x1="167.3" y1="902.0" x2="800.2" y2="902.0" stroke="#6a6a6a" stroke-width="3"/>
<line x1="170.0" y1="1343.8" x2="179.0" y2="1343.8" stroke="#000" stroke-width="2.8"/>
<line x1="170.0" y1="1014.5" x2="175.6" y2="1014.5" stroke="#000" stroke-width="2.8"/>
<line x1="170.0" y1="1234.4" x2="175.6" y2="1234.4" stroke="#000" stroke-width="2.8"/>
<line x1="170.0" y1="1453.0" x2="175.6" y2="1453.0" stroke="#000" stroke-width="2.8"/>
<line x1="797.5" y1="981.4" x2="788.5" y2="981.4" stroke="#000" stroke-width="2.8"/>
<line x1="797.5" y1="1136.7" x2="788.5" y2="1136.7" stroke="#000" stroke-width="2.8"/>
<line x1="797.5" y1="1292.0" x2="788.5" y2="1292.0" stroke="#000" stroke-width="2.8"/>
<line x1="797.5" y1="1447.0" x2="788.5" y2="1447.0" stroke="#000" stroke-width="2.8"/>
<line x1="797.5" y1="1058.0" x2="791.9" y2="1058.0" stroke="#000" stroke-width="2.8"/>
<line x1="797.5" y1="1214.3" x2="791.9" y2="1214.3" stroke="#000" stroke-width="2.8"/>
<line x1="797.5" y1="1370.0" x2="791.9" y2="1370.0" stroke="#000" stroke-width="2.8"/>
<line x1="797.5" y1="1524.3" x2="791.9" y2="1524.3" stroke="#000" stroke-width="2.8"/>
<line x1="238.6" y1="1563.6" x2="238.6" y2="1554.6" stroke="#000" stroke-width="2.8"/>
<line x1="376.0" y1="1563.6" x2="376.0" y2="1554.6" stroke="#000" stroke-width="2.8"/>
<line x1="591.8" y1="1563.6" x2="591.8" y2="1554.6" stroke="#000" stroke-width="2.8"/>
<line x1="729.4" y1="1563.6" x2="729.4" y2="1554.6" stroke="#000" stroke-width="2.8"/>
<line x1="307.7" y1="1563.6" x2="307.7" y2="1558.1999999999998" stroke="#000" stroke-width="2.8"/>
<line x1="443.9" y1="1563.6" x2="443.9" y2="1558.1999999999998" stroke="#000" stroke-width="2.8"/>
<line x1="523.5" y1="1563.6" x2="523.5" y2="1558.1999999999998" stroke="#000" stroke-width="2.8"/>
<line x1="660.5" y1="1563.6" x2="660.5" y2="1558.1999999999998" stroke="#000" stroke-width="2.8"/>
<g clip-path="url(#cclip)">
<path d="M173.8,1559.5 L177.9,1545.0 L186.2,1494.3 L193.5,1451.8 L201.3,1427.0 L208.4,1392.8 L215.8,1370.7 L222.9,1353.5 L229.7,1337.6 L236.9,1311.0 L244.2,1298.7 L250.8,1291.8 L300.0,1292.2 L360.0,1292.6 L420.0,1293.4 L484.0,1293.0 L540.0,1293.2 L600.0,1292.6 L660.0,1292.2 L700.0,1291.2 L714.0,1291.4 L721.8,1298.2 L729.0,1309.4 L736.3,1316.5 L742.9,1337.6 L749.7,1375.7 L756.8,1397.6 L763.6,1434.2 L770.8,1461.8 L777.2,1474.2 L784.3,1518.5 L791.1,1541.9 L797.7,1554.3" fill="none" stroke="#3c3c3c" stroke-width="7.6" stroke-linejoin="round" stroke-linecap="butt"/>
</g>
<g fill="#fff" stroke="#a4a4a4" stroke-width="1.4"><circle cx="254.0" cy="1291.8" r="4.3"/><circle cx="258.7" cy="1291.9" r="4.3"/><circle cx="263.4" cy="1291.9" r="4.3"/><circle cx="268.1" cy="1291.9" r="4.3"/><circle cx="272.9" cy="1292.0" r="4.3"/><circle cx="277.6" cy="1292.0" r="4.3"/><circle cx="282.3" cy="1292.1" r="4.3"/><circle cx="287.0" cy="1292.1" r="4.3"/><circle cx="291.7" cy="1292.1" r="4.3"/><circle cx="296.4" cy="1292.2" r="4.3"/><circle cx="301.1" cy="1292.2" r="4.3"/><circle cx="305.9" cy="1292.2" r="4.3"/><circle cx="310.6" cy="1292.3" r="4.3"/><circle cx="315.3" cy="1292.3" r="4.3"/><circle cx="320.0" cy="1292.3" r="4.3"/><circle cx="324.7" cy="1292.4" r="4.3"/><circle cx="329.4" cy="1292.4" r="4.3"/><circle cx="334.1" cy="1292.4" r="4.3"/><circle cx="338.9" cy="1292.5" r="4.3"/><circle cx="343.6" cy="1292.5" r="4.3"/><circle cx="348.3" cy="1292.5" r="4.3"/><circle cx="353.0" cy="1292.6" r="4.3"/><circle cx="357.7" cy="1292.6" r="4.3"/><circle cx="362.4" cy="1292.6" r="4.3"/><circle cx="367.1" cy="1292.7" r="4.3"/><circle cx="371.9" cy="1292.8" r="4.3"/><circle cx="376.6" cy="1292.8" r="4.3"/><circle cx="381.3" cy="1292.9" r="4.3"/><circle cx="386.0" cy="1292.9" r="4.3"/><circle cx="390.7" cy="1293.0" r="4.3"/><circle cx="395.4" cy="1293.1" r="4.3"/><circle cx="400.1" cy="1293.1" r="4.3"/><circle cx="404.9" cy="1293.2" r="4.3"/><circle cx="409.6" cy="1293.3" r="4.3"/><circle cx="414.3" cy="1293.3" r="4.3"/><circle cx="419.0" cy="1293.4" r="4.3"/><circle cx="423.7" cy="1293.4" r="4.3"/><circle cx="428.4" cy="1293.3" r="4.3"/><circle cx="433.1" cy="1293.3" r="4.3"/><circle cx="437.9" cy="1293.3" r="4.3"/><circle cx="442.6" cy="1293.3" r="4.3"/><circle cx="447.3" cy="1293.2" r="4.3"/><circle cx="452.0" cy="1293.2" r="4.3"/><circle cx="456.7" cy="1293.2" r="4.3"/><circle cx="461.4" cy="1293.1" r="4.3"/><circle cx="466.1" cy="1293.1" r="4.3"/><circle cx="470.9" cy="1293.1" r="4.3"/><circle cx="475.6" cy="1293.1" r="4.3"/><circle cx="480.3" cy="1293.0" r="4.3"/><circle cx="485.0" cy="1293.0" r="4.3"/><circle cx="489.7" cy="1293.0" r="4.3"/><circle cx="494.4" cy="1293.0" r="4.3"/><circle cx="499.1" cy="1293.1" r="4.3"/><circle cx="503.9" cy="1293.1" r="4.3"/><circle cx="508.6" cy="1293.1" r="4.3"/><circle cx="513.3" cy="1293.1" r="4.3"/><circle cx="518.0" cy="1293.1" r="4.3"/><circle cx="522.7" cy="1293.1" r="4.3"/><circle cx="527.4" cy="1293.2" r="4.3"/><circle cx="532.1" cy="1293.2" r="4.3"/><circle cx="536.9" cy="1293.2" r="4.3"/><circle cx="541.6" cy="1293.2" r="4.3"/><circle cx="546.3" cy="1293.1" r="4.3"/><circle cx="551.0" cy="1293.1" r="4.3"/><circle cx="555.7" cy="1293.0" r="4.3"/><circle cx="560.4" cy="1293.0" r="4.3"/><circle cx="565.1" cy="1292.9" r="4.3"/><circle cx="569.9" cy="1292.9" r="4.3"/><circle cx="574.6" cy="1292.9" r="4.3"/><circle cx="579.3" cy="1292.8" r="4.3"/><circle cx="584.0" cy="1292.8" r="4.3"/><circle cx="588.7" cy="1292.7" r="4.3"/><circle cx="593.4" cy="1292.7" r="4.3"/><circle cx="598.1" cy="1292.6" r="4.3"/><circle cx="602.9" cy="1292.6" r="4.3"/><circle cx="607.6" cy="1292.5" r="4.3"/><circle cx="612.3" cy="1292.5" r="4.3"/><circle cx="617.0" cy="1292.5" r="4.3"/><circle cx="621.7" cy="1292.5" r="4.3"/><circle cx="626.4" cy="1292.4" r="4.3"/><circle cx="631.1" cy="1292.4" r="4.3"/><circle cx="635.9" cy="1292.4" r="4.3"/><circle cx="640.6" cy="1292.3" r="4.3"/><circle cx="645.3" cy="1292.3" r="4.3"/><circle cx="650.0" cy="1292.3" r="4.3"/><circle cx="654.7" cy="1292.2" r="4.3"/><circle cx="659.4" cy="1292.2" r="4.3"/><circle cx="664.1" cy="1292.1" r="4.3"/><circle cx="668.9" cy="1292.0" r="4.3"/><circle cx="673.6" cy="1291.9" r="4.3"/><circle cx="678.3" cy="1291.7" r="4.3"/><circle cx="683.0" cy="1291.6" r="4.3"/><circle cx="687.7" cy="1291.5" r="4.3"/><circle cx="692.4" cy="1291.4" r="4.3"/><circle cx="697.1" cy="1291.3" r="4.3"/><circle cx="701.9" cy="1291.2" r="4.3"/><circle cx="706.6" cy="1291.3" r="4.3"/><circle cx="711.3" cy="1291.4" r="4.3"/><circle cx="716.0" cy="1293.1" r="4.3"/></g>
<g fill="#fff" stroke="#b8b8b8" stroke-width="1.2"><circle cx="177.9" cy="1545.0" r="3.9"/><circle cx="186.2" cy="1494.3" r="3.9"/><circle cx="193.5" cy="1451.8" r="3.9"/><circle cx="201.3" cy="1427.0" r="3.9"/><circle cx="208.4" cy="1392.8" r="3.9"/><circle cx="215.8" cy="1370.7" r="3.9"/><circle cx="222.9" cy="1353.5" r="3.9"/><circle cx="229.7" cy="1337.6" r="3.9"/><circle cx="236.9" cy="1311.0" r="3.9"/><circle cx="244.2" cy="1298.7" r="3.9"/><circle cx="250.8" cy="1291.8" r="3.9"/><circle cx="721.8" cy="1298.2" r="3.9"/><circle cx="729.0" cy="1309.4" r="3.9"/><circle cx="736.3" cy="1316.5" r="3.9"/><circle cx="742.9" cy="1337.6" r="3.9"/><circle cx="749.7" cy="1375.7" r="3.9"/><circle cx="756.8" cy="1397.6" r="3.9"/><circle cx="763.6" cy="1434.2" r="3.9"/><circle cx="770.8" cy="1461.8" r="3.9"/><circle cx="777.2" cy="1474.2" r="3.9"/><circle cx="784.3" cy="1518.5" r="3.9"/><circle cx="791.1" cy="1541.9" r="3.9"/><circle cx="797.7" cy="1554.3" r="3.9"/></g>
<rect x="479.8" y="1288.6" width="8.4" height="9.4" fill="#4a4a4a"/>
<g clip-path="url(#cclip)">
<path d="M170.7,1141.0 L174.5,1126.0 L179.0,1111.8 L183.0,1102.0 L187.3,1095.3 L190.5,1096.5 L193.5,1099.4 L197.5,1104.6 L201.7,1109.8 L207.0,1113.4 L212.1,1116.0 L215.3,1119.5 L218.3,1124.3 L221.5,1133.0 L224.5,1142.9 L227.5,1155.0 L230.7,1167.7 L233.8,1181.0 L236.9,1194.6 L240.0,1210.0 L243.1,1225.7 L248.0,1228.5 L253.5,1230.9 L257.5,1224.0 L261.8,1215.3 L266.0,1202.5 L270.1,1188.4 L274.8,1168.0 L279.4,1147.0 L285.0,1136.0 L290.8,1126.3 L296.0,1118.0 L301.1,1110.8 L307.0,1108.4 L313.5,1106.7 L318.5,1101.5 L323.9,1096.3 L329.0,1094.6 L334.2,1094.2 L339.5,1099.0 L344.6,1103.6 L350.5,1104.0 L357.0,1104.6 L363.0,1105.4 L369.4,1106.7 L375.5,1111.0 L381.8,1116.0 L388.0,1120.0 L394.3,1123.2 L406.0,1125.2 L419.1,1126.3 L440.0,1126.0 L460.5,1125.3 L484.0,1125.6 L484.0,1125.6 L507.5,1125.3 L528.0,1126.0 L548.9,1126.3 L562.0,1125.2 L573.7,1123.2 L580.0,1120.0 L586.2,1116.0 L592.5,1111.0 L598.6,1106.7 L605.0,1105.4 L611.0,1104.6 L617.5,1104.0 L623.4,1103.6 L628.5,1099.0 L633.8,1094.2 L639.0,1094.6 L644.1,1096.3 L649.5,1101.5 L654.5,1106.7 L661.0,1108.4 L666.9,1110.8 L672.0,1118.0 L677.2,1126.3 L683.0,1136.0 L688.6,1147.0 L693.2,1168.0 L697.9,1188.4 L702.0,1202.5 L706.2,1215.3 L710.5,1224.0 L714.5,1230.9 L720.0,1228.5 L724.9,1225.7 L728.0,1210.0 L731.1,1194.6 L734.2,1181.0 L737.3,1167.7 L740.5,1155.0 L743.5,1142.9 L746.5,1133.0 L749.7,1124.3 L752.7,1119.5 L755.9,1116.0 L761.0,1113.4 L766.3,1109.8 L770.5,1104.6 L774.5,1099.4 L777.5,1096.5 L780.7,1095.3 L785.0,1102.0 L789.0,1111.8 L793.5,1126.0 L797.3,1141.0" fill="none" stroke="#ff0000" stroke-width="7.8" stroke-linejoin="round" stroke-linecap="butt"/>
<path d="M170.7,1100.0 L175.5,1091.0 L181.0,1082.9 L186.0,1076.2 L191.4,1070.4 L197.5,1066.0 L203.8,1063.2 L213.0,1061.8 L222.4,1061.1 L234.0,1060.5 L245.2,1060.1 L253.5,1060.8 L261.8,1062.2 L268.0,1063.8 L274.2,1066.3 L280.5,1072.0 L286.6,1078.7 L293.0,1086.0 L299.0,1093.2 L305.0,1099.5 L311.5,1105.6 L319.5,1111.0 L328.0,1115.6 L336.0,1116.0 L344.6,1115.0 L354.0,1113.0 L363.2,1112.2 L370.5,1114.8 L377.7,1118.0 L388.0,1123.4 L398.4,1128.4 L420.0,1131.0 L450.0,1131.5 L484.0,1130.5 L484.0,1130.5 L518.0,1131.5 L548.0,1131.0 L569.6,1128.4 L580.0,1123.4 L590.3,1118.0 L597.5,1114.8 L604.8,1112.2 L614.0,1113.0 L623.4,1115.0 L632.0,1116.0 L640.0,1115.6 L648.5,1111.0 L656.5,1105.6 L663.0,1099.5 L669.0,1093.2 L675.0,1086.0 L681.4,1078.7 L687.5,1072.0 L693.8,1066.3 L700.0,1063.8 L706.2,1062.2 L714.5,1060.8 L722.8,1060.1 L734.0,1060.5 L745.6,1061.1 L755.0,1061.8 L764.2,1063.2 L770.5,1066.0 L776.6,1070.4 L782.0,1076.2 L787.0,1082.9 L792.5,1091.0 L797.3,1100.0" fill="none" stroke="#00c414" stroke-width="8.6" stroke-linejoin="round" stroke-linecap="butt"/>
<path d="M170.7,1113.0 L173.5,1100.0 L176.9,1087.0 L181.5,1071.0 L187.3,1056.0 L193.0,1043.5 L199.7,1032.0 L205.0,1027.5 L210.0,1024.0 L214.5,1018.5 L219.3,1013.5 L223.0,1013.0 L226.6,1014.5 L231.0,1012.2 L234.9,1011.4 L239.5,1013.0 L244.2,1015.6 L248.5,1010.5 L253.5,1006.5 L257.5,1009.5 L261.8,1013.5 L267.0,1017.6 L272.1,1022.8 L277.0,1030.5 L282.5,1039.4 L288.5,1051.5 L294.9,1064.2 L301.0,1076.6 L307.3,1089.0 L313.5,1097.0 L319.7,1103.6 L328.0,1109.0 L336.3,1113.9 L342.5,1118.0 L348.7,1121.1 L358.0,1121.6 L367.3,1121.1 L378.0,1123.6 L388.0,1126.3 L398.0,1130.0 L408.7,1133.6 L424.0,1134.4 L439.8,1134.6 L452.0,1134.8 L464.6,1134.6 L472.0,1133.0 L479.1,1130.5 L481.5,1125.0 L484.0,1118.5 L484.0,1118.5 L486.5,1125.0 L488.9,1130.5 L496.0,1133.0 L503.4,1134.6 L516.0,1134.8 L528.2,1134.6 L544.0,1134.4 L559.3,1133.6 L570.0,1130.0 L580.0,1126.3 L590.0,1123.6 L600.7,1121.1 L610.0,1121.6 L619.3,1121.1 L625.5,1118.0 L631.7,1113.9 L640.0,1109.0 L648.3,1103.6 L654.5,1097.0 L660.7,1089.0 L667.0,1076.6 L673.1,1064.2 L679.5,1051.5 L685.5,1039.4 L691.0,1030.5 L695.9,1022.8 L701.0,1017.6 L706.2,1013.5 L710.5,1009.5 L714.5,1006.5 L719.5,1010.5 L723.8,1015.6 L728.5,1013.0 L733.1,1011.4 L737.0,1012.2 L741.4,1014.5 L745.0,1013.0 L748.7,1013.5 L753.5,1018.5 L758.0,1024.0 L763.0,1027.5 L768.3,1032.0 L775.0,1043.5 L780.7,1056.0 L786.5,1071.0 L791.1,1087.0 L794.5,1100.0 L797.3,1113.0" fill="none" stroke="#00009f" stroke-width="7.6" stroke-linejoin="round" stroke-linecap="butt"/>
</g>
<path d="M472.9,1578.5 L483.4,1548.1 M484.6,1578.5 L495.1,1548.1" stroke="#000" stroke-width="2.6" fill="none"/>
<g fill="#000"><circle cx="457.8" cy="1146.8" r="3.0"/><circle cx="456.1" cy="1160.2" r="3.0"/><circle cx="451.5" cy="1172.8" r="3.0"/><circle cx="441.3" cy="1180.4" r="3.0"/><circle cx="431.7" cy="1171.8" r="3.0"/><circle cx="427.5" cy="1159.0" r="3.0"/><circle cx="425.9" cy="1145.8" r="3.0"/><circle cx="426.6" cy="1132.2" r="3.0"/><circle cx="429.5" cy="1119.3" r="3.0"/><circle cx="436.3" cy="1107.8" r="3.0"/><circle cx="448.3" cy="1108.5" r="3.0"/><circle cx="454.7" cy="1120.3" r="3.0"/><circle cx="457.4" cy="1133.2" r="3.0"/></g>
<line x1="432.0" y1="1169.8" x2="385.5" y2="1169.8" stroke="#000" stroke-width="6.5"/>
<path d="M370.5,1169.8 L394.5,1155.3 L387.5,1169.8 L394.5,1184.3 Z" fill="#000"/>
<g fill="#000"><circle cx="559.0" cy="1299.5" r="3.0"/><circle cx="557.3" cy="1312.9" r="3.0"/><circle cx="552.7" cy="1325.5" r="3.0"/><circle cx="542.5" cy="1333.1" r="3.0"/><circle cx="532.9" cy="1324.5" r="3.0"/><circle cx="528.7" cy="1311.7" r="3.0"/><circle cx="527.1" cy="1298.5" r="3.0"/><circle cx="527.8" cy="1284.9" r="3.0"/><circle cx="530.7" cy="1272.0" r="3.0"/><circle cx="537.5" cy="1260.5" r="3.0"/><circle cx="549.5" cy="1261.2" r="3.0"/><circle cx="555.9" cy="1273.0" r="3.0"/><circle cx="558.6" cy="1285.9" r="3.0"/></g>
<line x1="555.0" y1="1259.3" x2="604.7" y2="1258.7" stroke="#000" stroke-width="6.5"/>
<path d="M619.7,1258.0 L595.7,1243.5 L602.7,1258.0 L595.7,1272.5 Z" fill="#000"/>
<line x1="1403.5" y1="943.7" x2="1458.5" y2="943.7" stroke="#00009f" stroke-width="7.4" stroke-linecap="round"/>
<line x1="1403.5" y1="1001.7" x2="1458.5" y2="1001.7" stroke="#00c414" stroke-width="8.6" stroke-linecap="round"/>
<line x1="1403.5" y1="1058.1" x2="1458.5" y2="1058.1" stroke="#ff0000" stroke-width="8.4" stroke-linecap="round"/>
<rect x="1199.3" y="904.3" width="630.2" height="662.3" fill="none" stroke="#000" stroke-width="6.2"/>
<line x1="1199.3" y1="955.6" x2="1208.7" y2="955.6" stroke="#000" stroke-width="3.0"/>
<line x1="1199.3" y1="1159.4" x2="1208.7" y2="1159.4" stroke="#000" stroke-width="3.0"/>
<line x1="1199.3" y1="1363.3" x2="1208.7" y2="1363.3" stroke="#000" stroke-width="3.0"/>
<line x1="1199.3" y1="1057.5" x2="1205.3" y2="1057.5" stroke="#000" stroke-width="3.0"/>
<line x1="1199.3" y1="1261.4" x2="1205.3" y2="1261.4" stroke="#000" stroke-width="3.0"/>
<line x1="1199.3" y1="1465.3" x2="1205.3" y2="1465.3" stroke="#000" stroke-width="3.0"/>
<line x1="1829.5" y1="988.6" x2="1820.1" y2="988.6" stroke="#000" stroke-width="3.0"/>
<line x1="1829.5" y1="1157.6" x2="1820.1" y2="1157.6" stroke="#000" stroke-width="3.0"/>
<line x1="1829.5" y1="1326.5" x2="1820.1" y2="1326.5" stroke="#000" stroke-width="3.0"/>
<line x1="1829.5" y1="1495.5" x2="1820.1" y2="1495.5" stroke="#000" stroke-width="3.0"/>
<line x1="1829.5" y1="1073.1" x2="1823.5" y2="1073.1" stroke="#000" stroke-width="3.0"/>
<line x1="1829.5" y1="1242.0" x2="1823.5" y2="1242.0" stroke="#000" stroke-width="3.0"/>
<line x1="1829.5" y1="1411.0" x2="1823.5" y2="1411.0" stroke="#000" stroke-width="3.0"/>
<line x1="1304.7" y1="1566.6" x2="1304.7" y2="1557.1999999999998" stroke="#000" stroke-width="3.0"/>
<line x1="1514.0" y1="1566.6" x2="1514.0" y2="1557.1999999999998" stroke="#000" stroke-width="3.0"/>
<line x1="1723.2" y1="1566.6" x2="1723.2" y2="1557.1999999999998" stroke="#000" stroke-width="3.0"/>
<line x1="1409.3" y1="1566.6" x2="1409.3" y2="1560.6" stroke="#000" stroke-width="3.0"/>
<line x1="1618.6" y1="1566.6" x2="1618.6" y2="1560.6" stroke="#000" stroke-width="3.0"/>
<path d="M1194.0,1320.8 L1201.7,1319.6 L1209.3,1318.1 L1217.0,1316.4 L1224.6,1319.9 L1232.3,1320.6 L1239.9,1320.8 L1247.6,1320.9 L1255.2,1319.9 L1262.9,1318.7 L1270.5,1317.7 L1278.2,1316.1 L1285.9,1314.5 L1293.5,1315.1 L1301.2,1319.3 L1308.8,1319.9 L1316.5,1318.6 L1324.1,1317.4 L1331.8,1318.6 L1339.4,1320.1 L1347.1,1319.7 L1354.8,1321.2 L1362.4,1327.7 L1370.1,1334.8 L1377.7,1343.3 L1385.4,1352.9 L1393.0,1364.8 L1400.7,1379.6 L1408.3,1392.9 L1416.0,1408.3 L1423.6,1427.9 L1431.3,1450.6 L1439.0,1475.5 L1446.6,1494.5 L1454.3,1509.0 L1461.9,1514.0 L1469.6,1517.3 L1477.2,1521.0 L1484.9,1525.4 L1492.5,1529.8 L1500.2,1534.7 L1507.8,1540.2 L1515.5,1540.7 L1523.2,1535.3 L1530.8,1530.6 L1538.5,1525.5 L1546.1,1519.7 L1553.8,1516.3 L1561.4,1509.2 L1569.1,1502.2 L1576.7,1497.4 L1584.4,1494.6 L1592.0,1477.7 L1599.7,1458.8 L1607.4,1431.0 L1615.0,1410.4 L1622.7,1401.8 L1630.3,1385.8 L1638.0,1367.8 L1645.6,1353.2 L1653.3,1340.4 L1660.9,1333.7 L1668.6,1323.2 L1676.2,1318.2 L1683.9,1316.5 L1691.6,1315.8 L1699.2,1315.4 L1706.9,1316.8 L1714.5,1318.4 L1722.2,1319.1 L1729.8,1319.2 L1737.5,1319.3 L1745.1,1319.4 L1752.8,1321.5 L1760.5,1322.5 L1768.1,1318.6 L1775.8,1316.9 L1783.4,1317.8 L1791.1,1318.6 L1798.7,1319.3 L1806.4,1319.9 L1814.0,1320.4 L1821.7,1320.9 L1829.3,1321.4 L1837.0,1321.1" fill="none" stroke="#000" stroke-width="7.6" stroke-linejoin="round" stroke-linecap="butt"/>
<g fill="#fff" stroke="#989898" stroke-width="1.4"><circle cx="1194.0" cy="1320.8" r="4.5"/><circle cx="1201.7" cy="1319.6" r="4.5"/><circle cx="1209.3" cy="1318.1" r="4.5"/><circle cx="1217.0" cy="1316.4" r="4.5"/><circle cx="1224.6" cy="1319.9" r="4.5"/><circle cx="1232.3" cy="1320.6" r="4.5"/><circle cx="1239.9" cy="1320.8" r="4.5"/><circle cx="1247.6" cy="1320.9" r="4.5"/><circle cx="1255.2" cy="1319.9" r="4.5"/><circle cx="1262.9" cy="1318.7" r="4.5"/><circle cx="1270.5" cy="1317.7" r="4.5"/><circle cx="1278.2" cy="1316.1" r="4.5"/><circle cx="1285.9" cy="1314.5" r="4.5"/><circle cx="1293.5" cy="1315.1" r="4.5"/><circle cx="1301.2" cy="1319.3" r="4.5"/><circle cx="1308.8" cy="1319.9" r="4.5"/><circle cx="1316.5" cy="1318.6" r="4.5"/><circle cx="1324.1" cy="1317.4" r="4.5"/><circle cx="1331.8" cy="1318.6" r="4.5"/><circle cx="1339.4" cy="1320.1" r="4.5"/><circle cx="1347.1" cy="1319.7" r="4.5"/><circle cx="1354.8" cy="1321.2" r="4.5"/><circle cx="1362.4" cy="1327.7" r="4.5"/><circle cx="1370.1" cy="1334.8" r="4.5"/><circle cx="1377.7" cy="1343.3" r="4.5"/><circle cx="1385.4" cy="1352.9" r="4.5"/><circle cx="1393.0" cy="1364.8" r="4.5"/><circle cx="1400.7" cy="1379.6" r="4.5"/><circle cx="1408.3" cy="1392.9" r="4.5"/><circle cx="1416.0" cy="1408.3" r="4.5"/><circle cx="1423.6" cy="1427.9" r="4.5"/><circle cx="1431.3" cy="1450.6" r="4.5"/><circle cx="1439.0" cy="1475.5" r="4.5"/><circle cx="1446.6" cy="1494.5" r="4.5"/><circle cx="1454.3" cy="1509.0" r="4.5"/><circle cx="1461.9" cy="1514.0" r="4.5"/><circle cx="1469.6" cy="1517.3" r="4.5"/><circle cx="1477.2" cy="1521.0" r="4.5"/><circle cx="1484.9" cy="1525.4" r="4.5"/><circle cx="1492.5" cy="1529.8" r="4.5"/><circle cx="1500.2" cy="1534.7" r="4.5"/><circle cx="1507.8" cy="1540.2" r="4.5"/><circle cx="1515.5" cy="1540.7" r="4.5"/><circle cx="1523.2" cy="1535.3" r="4.5"/><circle cx="1530.8" cy="1530.6" r="4.5"/><circle cx="1538.5" cy="1525.5" r="4.5"/><circle cx="1546.1" cy="1519.7" r="4.5"/><circle cx="1553.8" cy="1516.3" r="4.5"/><circle cx="1561.4" cy="1509.2" r="4.5"/><circle cx="1569.1" cy="1502.2" r="4.5"/><circle cx="1576.7" cy="1497.4" r="4.5"/><circle cx="1584.4" cy="1494.6" r="4.5"/><circle cx="1592.0" cy="1477.7" r="4.5"/><circle cx="1599.7" cy="1458.8" r="4.5"/><circle cx="1607.4" cy="1431.0" r="4.5"/><circle cx="1615.0" cy="1410.4" r="4.5"/><circle cx="1622.7" cy="1401.8" r="4.5"/><circle cx="1630.3" cy="1385.8" r="4.5"/><circle cx="1638.0" cy="1367.8" r="4.5"/><circle cx="1645.6" cy="1353.2" r="4.5"/><circle cx="1653.3" cy="1340.4" r="4.5"/><circle cx="1660.9" cy="1333.7" r="4.5"/><circle cx="1668.6" cy="1323.2" r="4.5"/><circle cx="1676.2" cy="1318.2" r="4.5"/><circle cx="1683.9" cy="1316.5" r="4.5"/><circle cx="1691.6" cy="1315.8" r="4.5"/><circle cx="1699.2" cy="1315.4" r="4.5"/><circle cx="1706.9" cy="1316.8" r="4.5"/><circle cx="1714.5" cy="1318.4" r="4.5"/><circle cx="1722.2" cy="1319.1" r="4.5"/><circle cx="1729.8" cy="1319.2" r="4.5"/><circle cx="1737.5" cy="1319.3" r="4.5"/><circle cx="1745.1" cy="1319.4" r="4.5"/><circle cx="1752.8" cy="1321.5" r="4.5"/><circle cx="1760.5" cy="1322.5" r="4.5"/><circle cx="1768.1" cy="1318.6" r="4.5"/><circle cx="1775.8" cy="1316.9" r="4.5"/><circle cx="1783.4" cy="1317.8" r="4.5"/><circle cx="1791.1" cy="1318.6" r="4.5"/><circle cx="1798.7" cy="1319.3" r="4.5"/><circle cx="1806.4" cy="1319.9" r="4.5"/><circle cx="1814.0" cy="1320.4" r="4.5"/><circle cx="1821.7" cy="1320.9" r="4.5"/><circle cx="1829.3" cy="1321.4" r="4.5"/><circle cx="1837.0" cy="1321.1" r="4.5"/></g>
<g clip-path="url(#dclip)">
<path d="M1200.1,1158.7 L1270.6,1159.7 L1280.0,1160.5 L1289.7,1162.0 L1300.8,1143.0 L1307.0,1134.5 L1312.9,1127.5 L1318.0,1113.0 L1322.9,1100.3 L1327.0,1099.4 L1331.0,1099.3 L1336.0,1088.0 L1341.0,1075.2 L1346.0,1060.5 L1351.1,1045.0 L1355.0,1033.0 L1359.2,1022.3 L1363.0,1021.4 L1367.2,1022.8 L1377.0,1032.5 L1387.3,1043.0 L1389.5,1056.0 L1391.4,1071.2 L1395.5,1091.0 L1399.4,1111.4 L1403.5,1135.0 L1407.5,1159.7 L1413.5,1200.0 L1419.5,1240.0 L1422.3,1261.4 L1425.0,1292.0 L1427.5,1323.5 L1430.0,1355.0 L1432.6,1385.7 L1435.8,1412.0 L1438.9,1430.0 L1443.0,1419.0 L1447.1,1406.4 L1451.3,1384.0 L1455.4,1360.8 L1459.5,1354.0 L1463.7,1348.4 L1469.0,1341.0 L1474.1,1334.9 L1482.0,1332.0 L1490.6,1329.8 L1496.0,1333.0 L1501.0,1336.0 L1510.0,1333.5 L1516.6,1331.8 L1526.0,1324.0 L1535.2,1317.3 L1543.5,1324.5 L1551.8,1331.8 L1557.0,1332.4 L1562.1,1333.9 L1566.3,1346.0 L1570.4,1360.8 L1575.6,1384.0 L1580.8,1406.4 L1585.0,1417.0 L1589.0,1422.5 L1591.2,1395.0 L1593.2,1365.0 L1596.3,1323.0 L1599.4,1282.1 L1603.5,1250.0 L1607.7,1220.0 L1612.0,1180.0 L1616.8,1141.6 L1619.8,1120.0 L1622.8,1101.4 L1627.0,1098.0 L1630.8,1095.3 L1636.0,1081.0 L1640.9,1067.1 L1645.0,1048.0 L1649.0,1028.9 L1654.0,1027.0 L1659.0,1025.9 L1664.0,1020.0 L1669.1,1014.8 L1673.0,1015.0 L1677.1,1016.8 L1681.0,1028.0 L1685.2,1041.0 L1689.2,1053.0 L1693.2,1065.1 L1698.0,1082.0 L1703.3,1099.3 L1710.0,1117.0 L1717.4,1133.6 L1723.5,1146.0 L1729.5,1155.7 L1761.7,1155.7 L1826.1,1157.7" fill="none" stroke="#00009f" stroke-width="7.8" stroke-linejoin="round" stroke-linecap="butt"/>
<path d="M1200.1,1161.0 L1270.6,1162.0 L1289.7,1165.5 L1300.8,1145.0 L1312.9,1130.0 L1319.0,1118.5 L1324.9,1107.4 L1333.0,1096.0 L1341.0,1083.2 L1348.0,1073.0 L1355.1,1063.1 L1359.0,1061.6 L1363.2,1061.1 L1373.0,1064.6 L1383.3,1069.1 L1386.5,1072.6 L1389.3,1077.2 L1391.5,1083.5 L1393.4,1091.3 L1400.0,1124.0 L1407.5,1159.7 L1414.0,1196.0 L1420.2,1220.0 L1424.5,1240.0 L1428.5,1257.3 L1432.5,1270.0 L1436.8,1277.6 L1443.0,1275.8 L1449.2,1273.8 L1457.5,1272.0 L1465.8,1270.7 L1474.1,1271.8 L1479.0,1269.6 L1484.4,1267.6 L1496.0,1268.8 L1507.2,1269.7 L1516.0,1266.5 L1526.0,1262.5 L1535.2,1260.4 L1548.0,1264.5 L1562.1,1268.7 L1570.5,1272.0 L1578.7,1274.9 L1584.0,1274.0 L1589.0,1271.0 L1593.0,1262.5 L1597.3,1251.0 L1601.5,1235.0 L1605.6,1220.0 L1611.0,1180.0 L1616.8,1143.0 L1622.8,1109.4 L1630.0,1099.0 L1636.9,1091.3 L1643.0,1078.0 L1649.0,1065.1 L1654.0,1063.0 L1659.0,1061.1 L1664.0,1057.5 L1669.1,1055.1 L1674.0,1058.5 L1679.1,1063.1 L1685.0,1073.5 L1691.2,1085.3 L1697.0,1097.0 L1703.3,1109.4 L1710.0,1122.5 L1717.4,1135.6 L1729.5,1156.0 L1761.7,1156.0 L1826.1,1158.0" fill="none" stroke="#00c414" stroke-width="8.0" stroke-linejoin="round" stroke-linecap="butt"/>
<path d="M1200.1,1159.7 L1235.0,1160.2 L1270.6,1160.7 L1280.0,1162.5 L1289.7,1164.8 L1295.0,1155.5 L1300.8,1145.6 L1307.0,1138.0 L1312.9,1131.5 L1319.0,1121.0 L1324.9,1111.4 L1330.0,1110.6 L1335.0,1110.4 L1343.0,1100.0 L1351.1,1089.3 L1358.0,1085.5 L1365.2,1083.2 L1375.0,1084.4 L1385.3,1086.3 L1388.5,1090.0 L1391.4,1095.3 L1395.5,1108.0 L1399.4,1121.5 L1403.5,1140.0 L1407.5,1159.7 L1411.5,1178.0 L1415.5,1196.0 L1419.5,1209.0 L1423.6,1220.1 L1427.0,1225.5 L1430.6,1228.2 L1433.0,1213.0 L1435.5,1196.0 L1438.7,1181.9 L1443.0,1192.0 L1447.7,1204.0 L1452.5,1215.0 L1457.8,1224.1 L1464.5,1225.5 L1471.9,1226.1 L1479.0,1230.5 L1486.0,1234.2 L1494.0,1229.5 L1502.1,1225.1 L1512.0,1228.2 L1526.2,1235.2 L1544.3,1235.2 L1555.0,1233.0 L1564.4,1230.2 L1569.5,1224.0 L1574.5,1216.1 L1580.5,1200.0 L1584.5,1194.0 L1588.6,1189.9 L1591.0,1200.0 L1593.6,1212.1 L1595.6,1224.0 L1597.6,1234.2 L1601.0,1229.0 L1604.7,1222.1 L1607.7,1203.0 L1610.7,1181.9 L1613.7,1162.0 L1616.8,1141.6 L1620.0,1126.0 L1623.8,1113.4 L1629.0,1108.6 L1634.9,1105.4 L1643.0,1094.5 L1651.0,1084.2 L1664.0,1083.0 L1677.1,1083.2 L1684.0,1087.5 L1691.2,1093.3 L1697.0,1102.5 L1703.3,1113.4 L1710.0,1125.5 L1717.4,1137.6 L1723.5,1147.5 L1729.5,1155.7 L1745.0,1156.0 L1761.7,1155.7 L1772.0,1154.6 L1781.8,1153.7 L1787.0,1156.0 L1791.9,1157.7 L1826.1,1157.7" fill="none" stroke="#ff0000" stroke-width="8.4" stroke-linejoin="round" stroke-linecap="butt"/>
</g>
<g fill="#000"><circle cx="1309.6" cy="1156.8" r="3.0"/><circle cx="1307.8" cy="1170.7" r="3.0"/><circle cx="1302.9" cy="1183.8" r="3.0"/><circle cx="1292.1" cy="1191.7" r="3.0"/><circle cx="1281.9" cy="1182.8" r="3.0"/><circle cx="1277.4" cy="1169.5" r="3.0"/><circle cx="1275.8" cy="1155.8" r="3.0"/><circle cx="1276.4" cy="1141.6" r="3.0"/><circle cx="1279.6" cy="1127.9" r="3.0"/><circle cx="1286.9" cy="1116.1" r="3.0"/><circle cx="1299.5" cy="1116.9" r="3.0"/><circle cx="1306.2" cy="1129.0" r="3.0"/><circle cx="1309.1" cy="1142.6" r="3.0"/></g>
<line x1="1286.0" y1="1119.5" x2="1242.3" y2="1119.5" stroke="#000" stroke-width="6.5"/>
<path d="M1227.3,1119.5 L1251.3,1105.0 L1244.3,1119.5 L1251.3,1134.0 Z" fill="#000"/>
<g fill="#000"><circle cx="1708.5" cy="1322.4" r="3.0"/><circle cx="1706.8" cy="1335.9" r="3.0"/><circle cx="1702.3" cy="1348.5" r="3.0"/><circle cx="1692.0" cy="1356.4" r="3.0"/><circle cx="1682.4" cy="1347.7" r="3.0"/><circle cx="1678.2" cy="1334.8" r="3.0"/><circle cx="1676.6" cy="1321.4" r="3.0"/><circle cx="1677.3" cy="1307.6" r="3.0"/><circle cx="1680.2" cy="1294.5" r="3.0"/><circle cx="1687.0" cy="1282.8" r="3.0"/><circle cx="1699.0" cy="1283.6" r="3.0"/><circle cx="1705.4" cy="1295.5" r="3.0"/><circle cx="1708.1" cy="1308.9" r="3.0"/></g>
<line x1="1697.5" y1="1282.2" x2="1744.9" y2="1282.0" stroke="#000" stroke-width="6.5"/>
<path d="M1759.9,1281.7 L1735.9,1267.2 L1742.9,1281.7 L1735.9,1296.2 Z" fill="#000"/>
<text x="28.3" y="89.4" font-size="79.2" text-anchor="start">(a)</text>
<text x="1009.1" y="89.5" font-size="79.2" text-anchor="start">(b)</text>
<text x="28.3" y="888.6" font-size="79.2" text-anchor="start">(c)</text>
<text x="1010.0" y="888.4" font-size="79.2" text-anchor="start">(d)</text>
<text x="123.83" y="178.3" font-size="70.2" text-anchor="start">1</text>
<rect x="126.64" y="169.22" width="13.05" height="11.68" fill="#fff"/>
<rect x="150.31" y="169.22" width="12.64" height="11.68" fill="#fff"/>
<text x="122.15" y="417.0" font-size="70.2" text-anchor="start">0</text>
<text font-size="70.2" transform="translate(89.31 662.27) scale(0.896 1)">−</text>
<text x="123.83" y="656.0" font-size="70.2" text-anchor="start">1</text>
<rect x="126.64" y="646.92" width="13.05" height="11.68" fill="#fff"/>
<rect x="150.31" y="646.92" width="12.64" height="11.68" fill="#fff"/>
<text font-size="70.2" transform="translate(188.41 785.57) scale(0.930 1)">−</text>
<text x="226.53" y="779.3" font-size="70.2" text-anchor="start">1</text>
<rect x="229.34" y="770.22" width="13.05" height="11.68" fill="#fff"/>
<rect x="253.01" y="770.22" width="12.64" height="11.68" fill="#fff"/>
<text x="464.1" y="779.3" font-size="70.2" text-anchor="start">0</text>
<text x="716.53" y="779.3" font-size="70.2" text-anchor="start">1</text>
<rect x="719.34" y="770.22" width="13.05" height="11.68" fill="#fff"/>
<rect x="743.01" y="770.22" width="12.64" height="11.68" fill="#fff"/>
<text x="365.25" y="839.3" font-size="78.06" text-anchor="start">X (<tspan font-weight="normal" stroke-width="0.2">µ</tspan>m)</text>
<text font-size="80.20" transform="translate(94.30 518.50) rotate(-90)">Y (<tspan font-weight="normal" stroke-width="0.2">µ</tspan>m)</text>
<text x="802.9" y="149.5" font-size="69.21" text-anchor="start">(meV)</text>
<text x="919.95" y="229.3" font-size="70.2" text-anchor="start">3</text>
<text font-size="70.2" transform="translate(907.67 725.27) scale(0.777 1)">−</text>
<text x="938.8" y="719.0" font-size="70.2" text-anchor="start">3</text>
<text x="1151.5" y="133.3" font-size="70.2" text-anchor="start">6</text>
<text x="1151.35" y="265.7" font-size="70.2" text-anchor="start">0</text>
<text font-size="70.2" transform="translate(1120.74 401.38) scale(0.888 1)">−</text>
<text x="1156.0" y="395.1" font-size="70.2" text-anchor="start">6</text>
<text font-size="70.2" transform="translate(1084.95 534.27) scale(0.882 1)">−</text>
<text x="1120.3" y="528.0" font-size="70.2" text-anchor="start">12</text>
<rect x="1123.11" y="518.92" width="13.05" height="11.68" fill="#fff"/>
<rect x="1146.77" y="518.92" width="12.64" height="11.68" fill="#fff"/>
<text font-size="70.2" transform="translate(1084.95 665.07) scale(0.882 1)">−</text>
<text x="1120.3" y="658.8" font-size="70.2" text-anchor="start">18</text>
<rect x="1123.11" y="649.72" width="13.05" height="11.68" fill="#fff"/>
<rect x="1146.77" y="649.72" width="12.64" height="11.68" fill="#fff"/>
<text x="1832.8" y="129.4" font-size="70.2" text-anchor="start">160</text>
<rect x="1835.61" y="120.32" width="13.05" height="11.68" fill="#fff"/>
<rect x="1859.27" y="120.32" width="12.64" height="11.68" fill="#fff"/>
<text x="1835.7" y="305.3" font-size="70.2" text-anchor="start">80</text>
<text x="1836.95" y="479.7" font-size="70.2" text-anchor="start">0</text>
<text font-size="70.2" transform="translate(1830.22 661.98) scale(0.860 1)">−</text>
<text x="1865.9" y="655.7" font-size="70.2" text-anchor="start">80</text>
<text font-size="70.2" transform="translate(1230.14 786.48) scale(0.885 1)">−</text>
<text x="1265.0" y="780.2" font-size="70.2" text-anchor="start">200</text>
<text x="1497.1" y="780.2" font-size="70.2" text-anchor="start">0</text>
<text x="1668.8" y="780.2" font-size="70.2" text-anchor="start">200</text>
<text x="1403.75" y="844.5" font-size="78.68" text-anchor="start">X (nm)</text>
<text font-size="79.14" transform="translate(1086.80 571.65) rotate(-90)">SCP (meV)</text>
<text font-size="79.22" transform="translate(2001.70 587.15) rotate(-90)">Height (nm)</text>
<text x="1391.5" y="123.9" font-size="70.6" text-anchor="start" letter-spacing="0.15" style="font-kerning:none">U-shaped</text>
<text x="1395.2" y="186.0" font-size="70.6" text-anchor="start" letter-spacing="0.15" style="font-kerning:none">V-shaped</text>
<text x="124.45" y="931.1" font-size="70.2" text-anchor="start">2</text>
<text x="124.45" y="1146.8" font-size="70.2" text-anchor="start">0</text>
<text font-size="70.2" transform="translate(96.42 1372.88) scale(0.794 1)">−</text>
<text x="126.55" y="1366.6" font-size="70.2" text-anchor="start">2</text>
<text font-size="70.2" transform="translate(94.61 1592.58) scale(0.828 1)">−</text>
<text x="125.85" y="1586.3" font-size="70.2" text-anchor="start">4</text>
<text x="803.5" y="1000.6" font-size="70.2" text-anchor="start">160</text>
<rect x="806.31" y="991.52" width="13.05" height="11.68" fill="#fff"/>
<rect x="829.97" y="991.52" width="12.64" height="11.68" fill="#fff"/>
<text x="805.1" y="1155.1" font-size="70.2" text-anchor="start">80</text>
<text x="806.25" y="1310.5" font-size="70.2" text-anchor="start">0</text>
<text font-size="70.2" transform="translate(798.95 1470.28) scale(0.851 1)">−</text>
<text x="833.4" y="1464.0" font-size="70.2" text-anchor="start">80</text>
<text font-size="70.2" transform="translate(147.90 1632.88) scale(0.865 1)">−</text>
<text x="181.5" y="1626.6" font-size="70.2" text-anchor="start">900</text>
<text font-size="70.2" transform="translate(299.85 1632.88) scale(0.718 1)">−</text>
<text x="329.5" y="1626.6" font-size="70.2" text-anchor="start">700</text>
<text x="536.5" y="1626.6" font-size="70.2" text-anchor="start">700</text>
<text x="672.0" y="1626.6" font-size="70.2" text-anchor="start">900</text>
<text x="365.55" y="1700.3" font-size="80.08" text-anchor="start">X (nm)</text>
<text font-size="79.78" transform="translate(95.60 1434.35) rotate(-90)">SCP (meV)</text>
<text font-size="79.24" transform="translate(967.60 1453.85) rotate(-90)">Height (nm)</text>
<text x="432.8" y="966.5" font-size="70.5" text-anchor="start">z=0</text>
<text x="432.8" y="1026.5" font-size="70.5" text-anchor="start">z=0.8</text>
<text x="432.8" y="1088.5" font-size="70.5" text-anchor="start">z=1.0</text>
<rect x="512.04" y="1079.38" width="13.11" height="11.72" fill="#fff"/>
<rect x="535.81" y="1079.38" width="12.69" height="11.72" fill="#fff"/>
<text x="1150.33" y="974.8" font-size="70.2" text-anchor="start">1</text>
<rect x="1153.14" y="965.72" width="13.05" height="11.68" fill="#fff"/>
<rect x="1176.81" y="965.72" width="12.64" height="11.68" fill="#fff"/>
<text x="1148.95" y="1176.6" font-size="70.2" text-anchor="start">0</text>
<text font-size="70.2" transform="translate(1118.75 1386.78) scale(0.851 1)">−</text>
<text x="1152.03" y="1380.5" font-size="70.2" text-anchor="start">1</text>
<rect x="1154.84" y="1371.42" width="13.05" height="11.68" fill="#fff"/>
<rect x="1178.51" y="1371.42" width="12.64" height="11.68" fill="#fff"/>
<text font-size="70.2" transform="translate(1119.01 1591.48) scale(0.828 1)">−</text>
<text x="1151.55" y="1585.2" font-size="70.2" text-anchor="start">2</text>
<text x="1836.5" y="1006.7" font-size="70.2" text-anchor="start">60</text>
<text x="1837.25" y="1176.5" font-size="70.2" text-anchor="start">30</text>
<text x="1837.85" y="1344.6" font-size="70.2" text-anchor="start">0</text>
<text font-size="70.2" transform="translate(1832.79 1520.68) scale(0.704 1)">−</text>
<text x="1861.3" y="1514.4" font-size="70.2" text-anchor="start">30</text>
<text font-size="70.2" transform="translate(1228.04 1630.28) scale(0.888 1)">−</text>
<text x="1263.8" y="1624.0" font-size="70.2" text-anchor="start">200</text>
<text x="1497.1" y="1624.0" font-size="70.2" text-anchor="start">0</text>
<text x="1669.2" y="1624.0" font-size="70.2" text-anchor="start">200</text>
<text x="1405.55" y="1698.7" font-size="79.2" text-anchor="start">X (nm)</text>
<text font-size="79.72" transform="translate(1088.80 1433.65) rotate(-90)">SCP (meV)</text>
<text font-size="79.42" transform="translate(2005.30 1452.05) rotate(-90)">Height (nm)</text>
<text x="1461.0" y="962.3" font-size="70.6" text-anchor="start">z=0</text>
<text x="1461.0" y="1020.2" font-size="70.6" text-anchor="start">z=0.8</text>
<text x="1461.0" y="1076.7" font-size="70.6" text-anchor="start">z=1.0</text>
<rect x="1540.35" y="1067.57" width="13.13" height="11.73" fill="#fff"/>
<rect x="1564.15" y="1067.57" width="12.71" height="11.73" fill="#fff"/>
<rect x="1017.5" y="1093.5" width="11.5" height="7.5" fill="#000"/>
</svg>
</body></html>
